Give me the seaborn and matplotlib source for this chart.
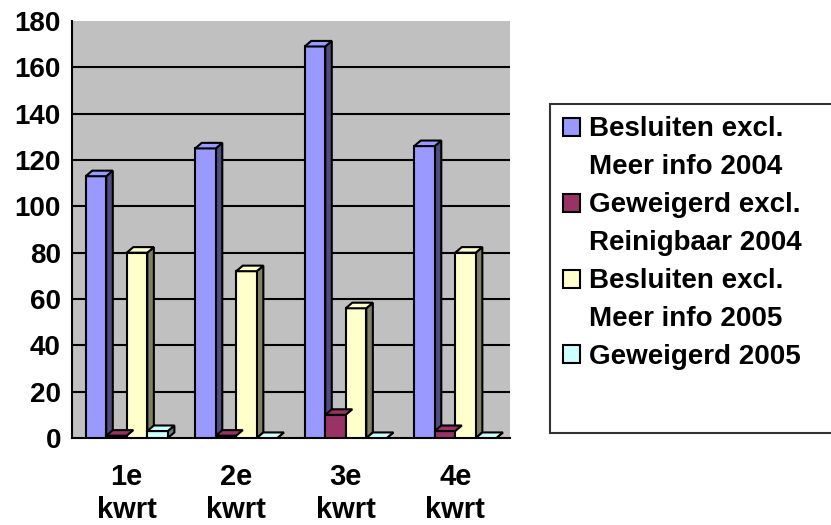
import matplotlib
matplotlib.use("Agg")
import matplotlib.pyplot as plt
import seaborn as sns
import pandas as pd
from matplotlib.patches import Polygon, Patch

categories = ["1e\nkwrt", "2e\nkwrt", "3e\nkwrt", "4e\nkwrt"]
series_names = ["Besluiten excl.\nMeer info 2004",
                "Geweigerd excl.\nReinigbaar 2004",
                "Besluiten excl.\nMeer info 2005",
                "Geweigerd 2005"]
besluiten_2004 = [113, 125, 169, 126]
geweigerd_2004 = [1, 1, 10, 3]
besluiten_2005 = [80, 72, 56, 80]
geweigerd_2005 = [3, 0, 0, 0]
y_ticks = [0, 20, 40, 60, 80, 100, 120, 140, 160, 180]

colors = ["#9999FF", "#993366", "#FFFFCC", "#CCFFFF"]
side_colors = ["#4D4D80", "#4D1A33", "#808066", "#668080"]

rows = []
for name, vals in zip(series_names, [besluiten_2004, geweigerd_2004, besluiten_2005, geweigerd_2005]):
    for c, v in zip(categories, vals):
        rows.append({"kwartaal": c, "serie": name, "waarde": v})
df = pd.DataFrame(rows)

sns.set_style("white")
plt.rcParams["font.family"] = ["Liberation Sans", "DejaVu Sans"]
plt.rcParams["font.weight"] = "bold"
plt.rcParams["text.color"] = "black"
plt.rcParams["xtick.color"] = "black"
plt.rcParams["ytick.color"] = "black"
plt.rcParams["axes.labelcolor"] = "black"

FS = 20

fig = plt.figure(figsize=(8.31, 5.25), dpi=100)
ax = fig.add_axes([72/831, 1-438/525, (510-72)/831, (438-21)/525])
ax.set_facecolor("#C0C0C0")

sns.barplot(data=df, x="kwartaal", y="waarde", hue="serie", order=categories,
            hue_order=series_names, palette=colors, width=0.75, ax=ax,
            edgecolor="black", linewidth=1.5, legend=False, saturation=1, zorder=3)

ax.set_ylim(0, 180)
ax.set_xlim(-0.5, 3.5)

# pseudo-3D faces derived from the drawn bars
dx, dy = 0.06, 2.4
bars = [p for p in ax.patches]
n_cat = len(categories)
for i, p in enumerate(bars):
    si = i // n_cat
    x0 = p.get_x(); w = p.get_width(); h = p.get_height(); x1 = x0 + w
    side = Polygon([(x1, 0), (x1 + dx, dy), (x1 + dx, h + dy), (x1, h)],
                   closed=True, facecolor=side_colors[si], edgecolor="black", lw=1.5, zorder=2.9)
    top = Polygon([(x0, h), (x0 + dx, h + dy), (x1 + dx, h + dy), (x1, h)],
                  closed=True, facecolor=colors[si], edgecolor="black", lw=1.5, zorder=3.1)
    ax.add_patch(side)
    ax.add_patch(top)

ax.set_yticks(y_ticks)
ax.set_yticklabels([str(t) for t in y_ticks], fontsize=FS, fontweight="bold", color="black")
for yt in y_ticks[1:-1]:
    ax.axhline(yt, color="black", lw=1.5, zorder=1)

ax.set_xticks([-0.5, 0.5, 1.5, 2.5, 3.5])
ax.set_xticklabels([])
ax.set_xticks([0, 1, 2, 3], minor=True)
ax.set_xticklabels(categories, minor=True, fontsize=21, fontweight="bold", linespacing=1.24,
                   color="black")
ax.tick_params(axis="x", which="minor", length=0, pad=18)
ax.tick_params(axis="x", which="major", length=7, width=1.5, direction="out", color="black")
ax.tick_params(axis="y", length=7, width=1.5, direction="out", color="black", pad=1)
ax.set_xlabel("")
ax.set_ylabel("")

for s in ["top", "right"]:
    ax.spines[s].set_visible(False)
for s in ["left", "bottom"]:
    ax.spines[s].set_color("black")
    ax.spines[s].set_linewidth(1.5)

# legend: one row per text line, swatch on the first line of each entry
leg_handles, leg_labels = [], []
for c, name in zip(colors, series_names):
    lines = name.split("\n")
    for j, line in enumerate(lines):
        if j == 0:
            leg_handles.append(Patch(facecolor=c, edgecolor="black", lw=1.5))
        else:
            leg_handles.append(Patch(facecolor="none", edgecolor="none"))
        leg_labels.append(line)
leg_handles.append(Patch(facecolor="none", edgecolor="none"))
leg_labels.append("\u00a0" * 40)

leg = fig.legend(leg_handles, leg_labels, loc="upper left",
                 bbox_to_anchor=(550/831, 1-104/525), frameon=True,
                 prop={"size": FS, "weight": "bold"}, handlelength=0.62, handleheight=0.62,
                 handletextpad=0.32, labelspacing=0.43, borderpad=0.45, fancybox=False,
                 borderaxespad=0, labelcolor="black")
leg.get_frame().set_edgecolor("black")
leg.get_frame().set_linewidth(1.5)
leg.get_texts()[-1].set_fontsize(29)

fig.savefig("out.png", dpi=100)
